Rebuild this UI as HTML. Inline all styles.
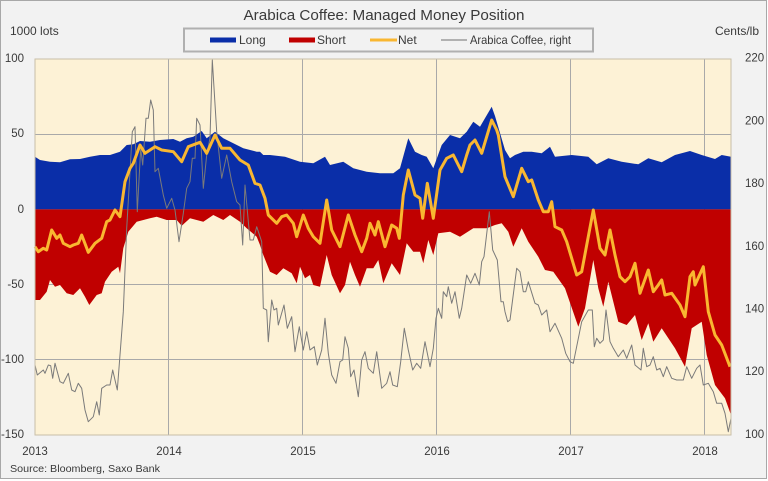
<!DOCTYPE html>
<html><head><meta charset="utf-8"><style>
html,body{margin:0;padding:0;background:#fff;}
svg{display:block;}
text{font-family:"Liberation Sans",sans-serif;fill:#3a3a3a;}
</style></head><body>
<svg width="768" height="481" viewBox="0 0 768 481" xmlns="http://www.w3.org/2000/svg">
<rect x="0.5" y="0.5" width="766" height="478" fill="#f2f2f2" stroke="#a8a8a8" stroke-width="1"/>
<text x="384" y="20" font-size="15" text-anchor="middle" textLength="281" lengthAdjust="spacingAndGlyphs">Arabica Coffee: Managed Money Position</text>
<text x="10" y="35" font-size="12">1000 lots</text>
<text x="759" y="35" font-size="12" text-anchor="end">Cents/lb</text>
<!-- legend -->
<rect x="184" y="28.5" width="409" height="23" fill="#f2f2f2" stroke="#b0b0b0" stroke-width="2"/>
<rect x="210" y="37.5" width="26" height="5" fill="#0a2ea8"/>
<text x="239" y="44" font-size="12">Long</text>
<rect x="289" y="37.5" width="26" height="5" fill="#c00000"/>
<text x="317" y="44" font-size="12">Short</text>
<line x1="370" y1="40" x2="397" y2="40" stroke="#f9b731" stroke-width="3"/>
<text x="398" y="44" font-size="12">Net</text>
<line x1="441" y1="40" x2="467" y2="40" stroke="#707070" stroke-width="1"/>
<text x="470" y="44" font-size="12" textLength="101" lengthAdjust="spacingAndGlyphs">Arabica Coffee, right</text>
<!-- plot -->
<rect x="35" y="59" width="696" height="376" fill="#fdf2d6"/>
<g stroke="#a9a9a9" stroke-width="1">
<line x1="35" y1="134.5" x2="731" y2="134.5"/>
<line x1="35" y1="284.5" x2="731" y2="284.5"/>
<line x1="35" y1="359.5" x2="731" y2="359.5"/>
<line x1="168.5" y1="59" x2="168.5" y2="435"/>
<line x1="302.5" y1="59" x2="302.5" y2="435"/>
<line x1="436.5" y1="59" x2="436.5" y2="435"/>
<line x1="570.5" y1="59" x2="570.5" y2="435"/>
<line x1="704.5" y1="59" x2="704.5" y2="435"/>
</g>
<polygon fill="#0a2ea8" points="35,209.4 35,156.7 40,160 50,161.7 60,162.3 70,159.3 80,159 90,156.7 100,155 110,155 120,151.7 126.7,145 133.3,144.3 140,141 150,141.7 160,140 173.3,139 180,141.7 186.7,138.3 193.3,136.7 201.7,131 206.7,138.3 215,131.7 223.3,138.3 233.3,143.3 243.3,148.3 256.7,151.7 260,151.7 263.3,155 270,155 285,156.7 300,161.7 313.3,163.3 325,156.7 330,165 343.3,161.7 353.3,168.3 366.7,171.7 380,173.3 393.3,173.3 400,168.3 408.3,138.3 415,151.7 421.7,155 426.7,156.7 433.3,168.3 441.7,145 450,135 460,138.3 466.7,131.7 473.3,121.7 480,126.7 491.7,106.7 495,116 500,133 505,150 510,158.3 515,155 523.3,151.7 531.7,151.7 541.7,153.3 550,146.7 555,156.7 571.7,155 588.3,156.7 596.7,164.3 608.3,158.3 621.7,161.7 638.3,164.3 648.3,158.3 661.7,162.3 675,155 690,151 701.7,155 715,159 721.7,155 731,156.7 731,209.4"/>
<polygon fill="#c00000" points="35,209.4 35,300 40,300 46.7,291.7 50,280 55,286.7 60,285 66.7,293.3 73.3,295 80,288.3 85,296.7 89.3,305 96.7,295 101.7,293.3 105,281.7 111.7,271.7 118.3,266.7 120,273.3 123.3,248.3 128.3,231.7 136.7,221.7 150,218.3 156.7,216.7 166.7,220 176.7,220 181.7,225.7 190,218.3 203.3,221.7 213.3,215 223.3,220 230,215 240,221.7 246.7,228.3 256.7,236.7 260,245 263.3,255 270,271.7 276.7,275 283.3,268.3 291.7,273.3 296.7,283.3 300,266.7 305,278.3 310,275 313.3,285 320,286.7 326.7,255 331.7,275 340,293.3 345,285 350,261.7 355,275 360,286.7 366.7,268.3 373.3,268.3 378.3,260 383.3,283.3 391.7,263.3 400,275 406.7,243.3 413.3,251.7 420,251.7 423.3,263.3 428.3,240 433.3,255 438.3,233.3 450,231.7 460,236.7 473.3,228.3 486.7,228.3 495,225 501.7,223.3 508.3,231.7 513.3,246.7 521.7,228.3 528.3,241.7 538.3,256.7 545,270 553.3,271.7 565,288.3 578.3,326.7 585,308.3 593.3,260 598.3,288.3 603.3,306.7 608.3,281.7 618.3,321.7 626.7,325 635,315 641.7,340 648.3,323.3 653.3,341.7 661.7,328.3 675,348.3 685,366.7 691.7,328.3 701.7,321.7 706.7,355 715,385 725,398.3 731,415 731,209.4"/>
<polyline fill="none" stroke="#7a7a7a" stroke-width="1" stroke-linejoin="round" points="35,365 37.3,375 43.3,370 45,373.3 48.3,365 50.7,365.7 52.7,378.3 55,363.3 60,381.7 63.3,383.3 68.3,373.3 71.7,390 75,391.7 78.3,383.3 81.7,388.3 85,410 88.3,421.7 93.3,416.7 96.7,401.7 99.3,415 101.7,388.3 106.7,385 110,385 112.7,370 117.3,390 120,355 123.3,311.7 126.7,228.3 130,171.7 132.3,131.7 135,126.7 137.3,211.7 140.7,148.3 142.7,165 146,118.3 148.3,118.3 150.7,100 153.3,110 155,171.7 158.3,168.3 163.3,195 166.7,208.3 171.7,198.3 175,210 179,241.7 183.3,213.3 186.7,188.3 190,181.7 192.3,158.3 195,158.3 196.7,118.3 200,125 203.3,188.3 206.7,155 210,138.3 212.3,60 216.7,131.7 221.7,178.3 226.7,155 231.7,181.7 236.7,201.7 240,205 242.7,245 245,185 250,240 253.3,240 256.7,226.7 261.7,241.7 263.3,308.3 266.7,310 268.3,341.7 271.7,300 274,310 276.7,308.3 278.3,325 284,305 287.3,328.3 291.7,316.7 295,351.7 299.3,326.7 303.3,350 306.7,331.7 310,350 314.3,346.7 317.3,365 321.7,350 325,318.3 328.3,353.3 331.7,375 336,383.3 340,361.7 342.7,360 345,336.7 348.3,348.3 350.7,376.7 354,370 358.3,396.7 361.7,360 365,351.7 368.3,368.3 373.3,373.3 376.7,351.7 381.7,388.3 386.7,383.3 390,371.7 392.7,385 397.3,386.7 400.7,361.7 404.3,328.3 408.3,350 412.7,370 416.7,363.3 420.7,368.3 425,341.7 430,366.7 433.3,348.3 436,318.3 438.3,308.3 441.7,318.3 443.3,291.7 446.7,296.7 448.3,286.7 451.7,303.3 455,291.7 459.3,318.3 461.7,308.3 466.7,275 470.7,283.3 475,273.3 479.3,285 481.7,261.7 484,256.7 489.3,211.7 492.7,250 497.3,260 501,301.7 503.3,301.7 505,311.7 507.7,321.7 510,320 516.7,268.3 520,271.7 523.3,291.7 525.7,291.7 528.3,281.7 535,303.3 538.3,305 541.7,315 546.7,310 550,331.7 555,323.3 561.7,338.3 565.7,353.3 570,361.7 573.3,363.3 581.7,321.7 588.3,310 592.3,310 594.3,346.7 596.7,338.3 600,343.3 603.3,340 606,310 610,341.7 613.3,348.3 618.3,356.7 623.3,350 626.7,358.3 631.7,345 635,365 641,370 643.3,348.3 646.7,366.7 650,365 653.3,356.7 656.7,370 660,368.3 663.3,376.7 666.7,366.7 671.7,378.3 676.7,380 683.3,380 686.7,366.7 691.7,378.3 696.7,368.3 700,365 703.3,385 708.3,383.3 713.3,391.7 716.7,403.3 721.7,403.3 725,413.3 728.3,431.7 731,418.3"/>
<polyline fill="none" stroke="#f9b731" stroke-width="3" stroke-linejoin="round" points="35,246.7 38.3,251.7 43.3,248.3 46.7,250 51.7,230 56.7,238.3 60,235 63.3,243.3 70,246.7 73.3,245 78.3,243.3 81.7,235 88.3,252.3 95,243.3 101.7,238.3 106.7,221.7 110,220 115,210 120,216.7 125,181.7 130,168.3 133.3,163.3 140,145 145,153.3 155,146.7 161.7,150 173.3,151.7 181.7,161.7 188.3,146.7 200,142.3 206.7,153.3 215,135 221.7,148.3 230,148.3 240,160 248.3,165 255,183.3 260,185 265,198.3 268.3,215 276.7,223.3 281.7,216.7 286.7,215 293.3,223.3 296.7,236.7 303.3,215 308.3,228.3 313.3,236.7 320,243.3 326.7,200 331.7,230 340,246.7 348.3,215 355,235 361.7,251.7 366.7,238.3 370,223.3 375,235 378.3,221.7 385,246.7 391.7,225 396.7,228.3 399.3,238.3 403.3,195 408.3,170 415,195 420,198.3 422.7,218.3 427.3,183.3 433.3,218.3 440,170 446.7,158.3 453.3,155 461.7,171.7 466.7,155 470,145 475,140 481.7,153.3 491.7,120 496.7,130 498.3,135 505,176.7 513.3,196.7 521.7,168.3 528.3,181.7 531.7,180 538.3,200 543.3,211.7 548.3,211.7 551.7,201.7 555,226.7 561.7,230 566.7,241.7 576.7,275 581.7,271.7 593.3,210 600,248.3 605,255 610,230 615,255 620,276.7 625,281.7 630,276.7 635,263.3 640,293.3 648.3,270 653.3,291.7 658.3,285 661.7,280 665,295 671.7,293.3 680,305 685,316.7 690,276.7 693.3,271.7 695,285 703.3,266.7 708.3,311.7 715,335 721.7,345 730,366.7"/>
<rect x="35" y="59" width="696" height="376" fill="none" stroke="#c8bfa8" stroke-width="1"/>
<!-- left axis -->
<g font-size="11.5" text-anchor="end">
<text x="24" y="62">100</text>
<text x="24" y="137">50</text>
<text x="24" y="213">0</text>
<text x="24" y="288">-50</text>
<text x="24" y="363">-100</text>
<text x="24" y="438">-150</text>
</g>
<g font-size="11.5" text-anchor="start">
<text x="745" y="61.5">220</text>
<text x="745" y="124.5">200</text>
<text x="745" y="187">180</text>
<text x="745" y="250">160</text>
<text x="745" y="312.5">140</text>
<text x="745" y="375">120</text>
<text x="745" y="438">100</text>
</g>
<g font-size="11.5" text-anchor="middle">
<text x="35" y="455">2013</text>
<text x="169" y="455">2014</text>
<text x="303" y="455">2015</text>
<text x="437" y="455">2016</text>
<text x="571" y="455">2017</text>
<text x="705" y="455">2018</text>
</g>
<text x="10" y="472" font-size="10.5" textLength="150" lengthAdjust="spacingAndGlyphs">Source: Bloomberg, Saxo Bank</text>
</svg>
</body></html>
